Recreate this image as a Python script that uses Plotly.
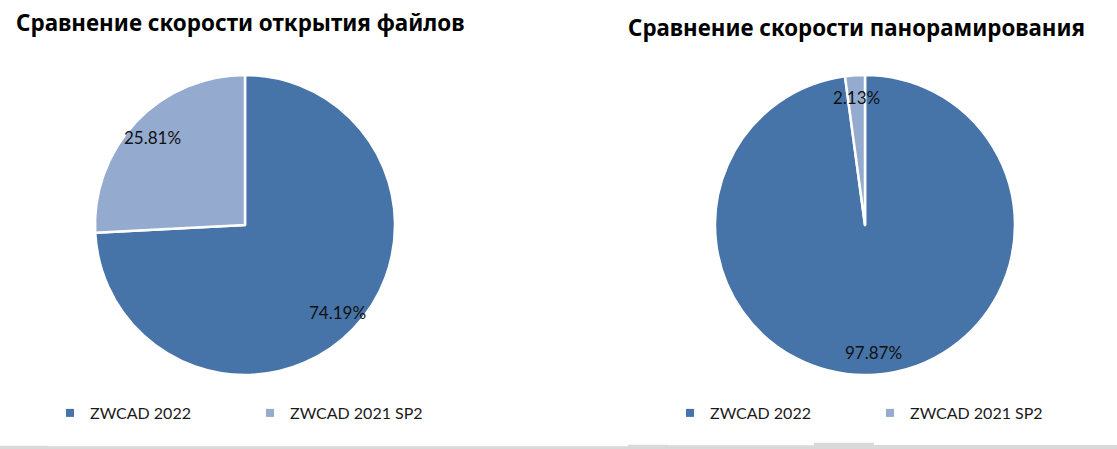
"""Two pie charts: ZWCAD 2022 vs ZWCAD 2021 SP2 (file open / pan speed share)."""
import math

import plotly.graph_objects as go

W, H = 1117, 449

labels = ["ZWCAD 2022", "ZWCAD 2021 SP2"]
open_values = [74.19, 25.81]
pan_values = [97.87, 2.13]
titles = ["Сравнение скорости открытия файлов",
          "Сравнение скорости панорамирования"]
colors = ["#4674A8", "#94AACF"]

# pie boxes in pixels: (left, top, size)
boxes = [(95, 75, 300), (715, 75, 300)]
title_pos = [(14, 22, 22.4), (626, 27, 22.3)]
legend_pos = [(50, 413), (670, 413)]


def px(x, y):
    return x / W, 1 - y / H


fig = go.Figure()
annotations = []
for i, (vals, (bx, by, sz)) in enumerate(zip([open_values, pan_values], boxes)):
    x0, y1 = px(bx, by)
    x1, y0 = px(bx + sz, by + sz)
    fig.add_trace(go.Pie(
        labels=labels, values=vals, sort=False, direction="clockwise",
        rotation=0, textinfo="none", hole=0, showlegend=False,
        marker=dict(colors=colors, line=dict(color="white", width=2.5)),
        domain=dict(x=[x0, x1], y=[y0, y1])))

    # data labels along each slice bisector
    cx, cy, r = bx + sz / 2, by + sz / 2, sz / 2
    total, cum = sum(vals), 0.0
    for v in vals:
        ang = (cum + v / 2) / total * 2 * math.pi
        cum += v
        lx, ly = px(cx + 0.85 * r * math.sin(ang), cy - 0.85 * r * math.cos(ang))
        annotations.append(dict(
            x=lx, y=ly, xref="paper", yref="paper", showarrow=False,
            xanchor="center", yanchor="middle",
            text=f"{v:.2f}%", font=dict(family="Lato", size=17, color="#111")))

    # legend entries (one legend per pie, small square keys)
    for lab, col in zip(labels, colors):
        fig.add_trace(go.Scatter(
            x=[None], y=[None], mode="markers", name=lab,
            marker=dict(symbol="square", size=8, color=col),
            legend="legend" if i == 0 else "legend2", hoverinfo="skip"))

for t, (tx, ty, fs) in zip(titles, title_pos):
    ax, ay = px(tx, ty)
    annotations.append(dict(
        x=ax, y=ay, xref="paper", yref="paper", xanchor="left",
        yanchor="middle", showarrow=False, text=f"<b>{t}</b>",
        font=dict(family="Noto Sans", size=fs, color="#000")))

legends = {}
for key, (lx, ly) in zip(["legend", "legend2"], legend_pos):
    x, y = px(lx, ly)
    legends[key] = dict(
        orientation="h", x=x, y=y, xanchor="left", yanchor="middle",
        entrywidth=155, entrywidthmode="pixels", traceorder="normal",
        itemsizing="trace",
        font=dict(family="Lato", size=16, color="#1a1a1a"),
        bgcolor="rgba(0,0,0,0)")

# grey sheet border strip along the bottom
shapes = []
for sx0, sx1, sy in [(0, 48, 445.7), (48, 628, 446.3), (628, 668, 444.7),
                     (668, 814, 445.3), (814, 874, 442.7), (874, 1117, 445)]:
    a0, b1 = px(sx0, sy)
    a1, b0 = px(sx1, H)
    shapes.append(dict(type="rect", xref="paper", yref="paper",
                       x0=a0, x1=a1, y0=b0, y1=b1, line_width=0,
                       fillcolor="#d9d9d9", layer="below"))

fig.update_layout(
    width=W, height=H, autosize=False,
    margin=dict(l=0, r=0, t=0, b=0),
    paper_bgcolor="white", plot_bgcolor="white",
    xaxis=dict(visible=False), yaxis=dict(visible=False),
    annotations=annotations, shapes=shapes,
    showlegend=True, **legends)

fig.write_html("out.html", config={"displayModeBar": False},
               post_script="document.body.style.margin='0';")
